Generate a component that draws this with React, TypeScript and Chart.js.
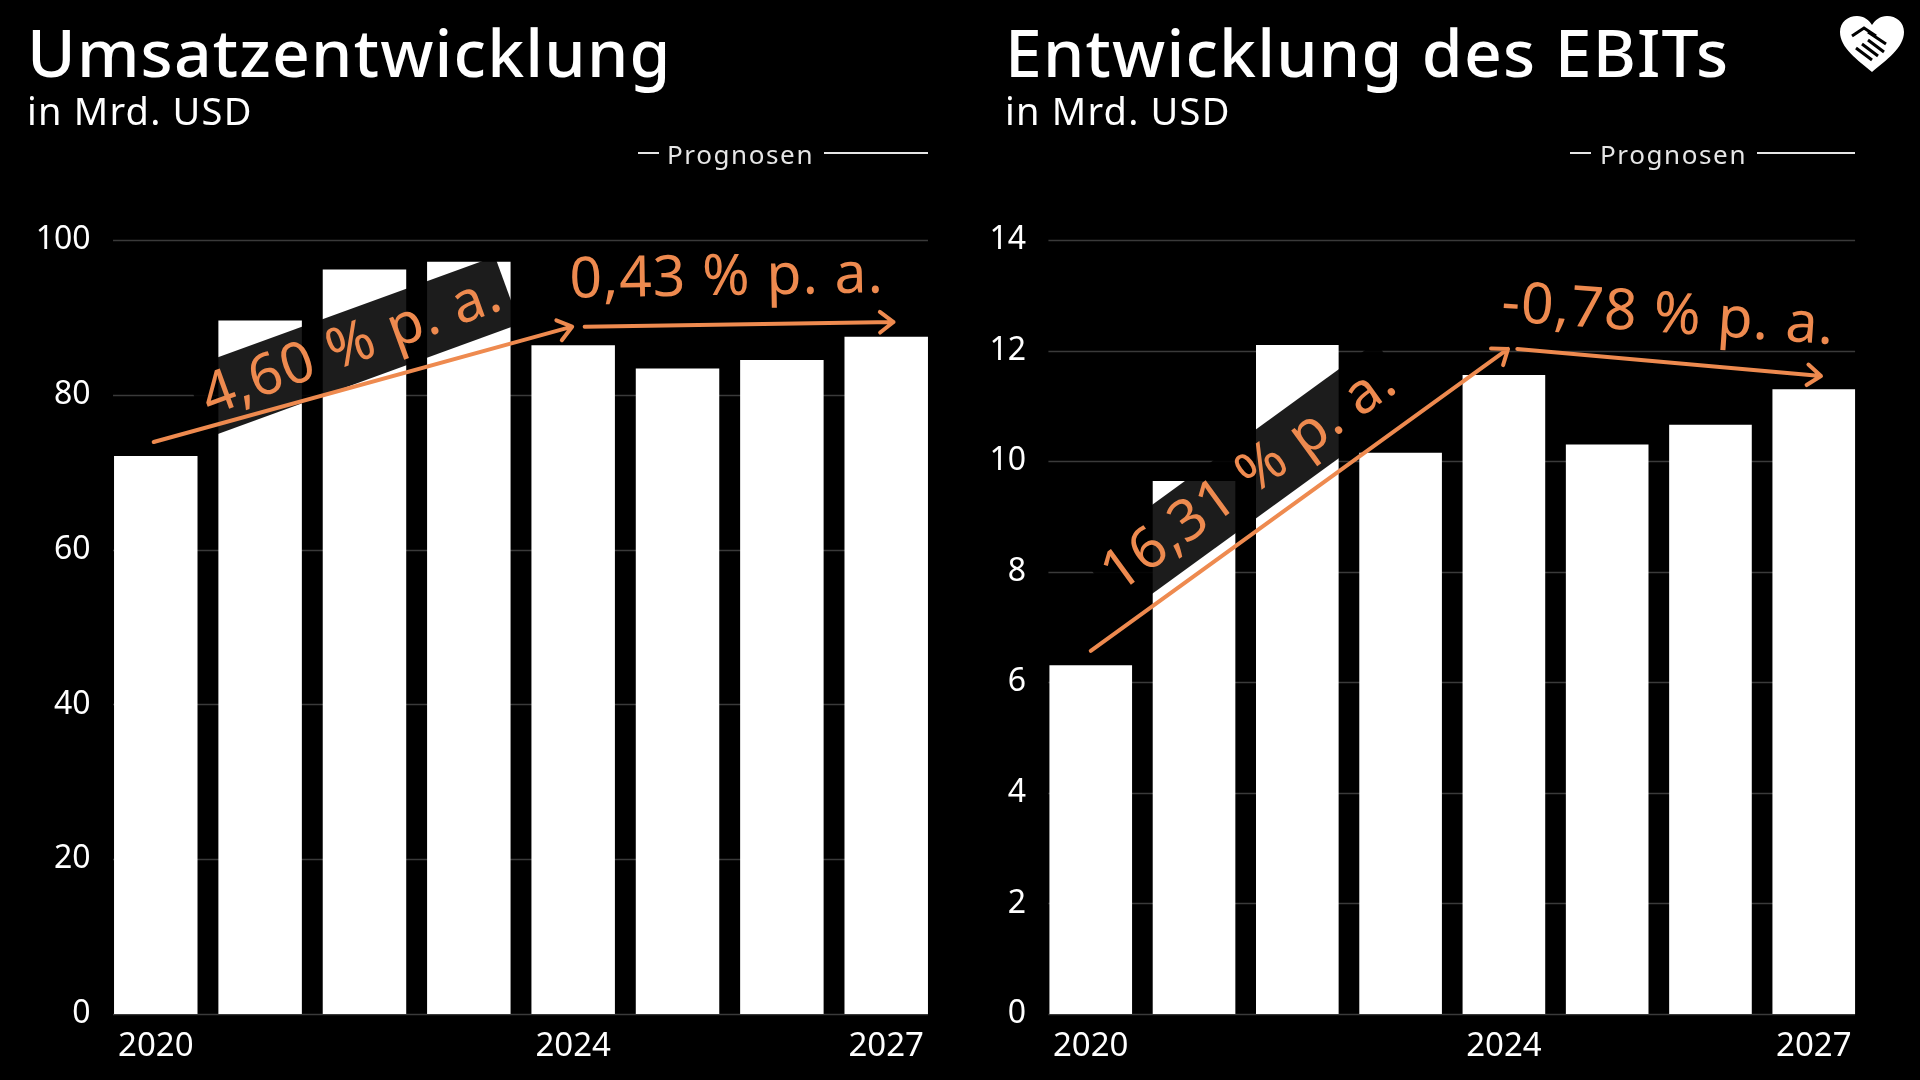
import React, { useEffect, useRef } from "react";
import { Chart, registerables } from "chart.js";

Chart.register(...registerables);

// ---------- data ----------
const years = ["2020", "2021", "2022", "2023", "2024", "2025", "2026", "2027"];
const shownYears = ["2020", "2024", "2027"];
const revenue = [72.1, 89.6, 96.2, 97.2, 86.4, 83.4, 84.5, 87.5];
const ebit = [6.31, 9.64, 12.1, 10.15, 11.56, 10.3, 10.66, 11.3];
const revenueAxis = [0, 100, 20];
const ebitAxis = [0, 14, 2];
const revenueTitle = "Umsatzentwicklung";
const ebitTitle = "Entwicklung des EBITs";
const unitLabel = "in Mrd. USD";
const forecastLabel = "Prognosen";
const revenueCagr = ["4,60 % p. a.", "0,43 % p. a."];
const ebitCagr = ["16,31 % p. a.", "-0,78 % p. a."];

// ---------- style ----------
const FONT = "'Noto Sans', sans-serif";
const ORANGE = "#EE8A4F";
const GRID = "#3a3a3a";

type Arrow = { x0: number; y0: number; x1: number; y1: number };
type Label = { text: string; x: number; y: number; rot: number; band: boolean };

const revenueArrows: Arrow[] = [
  { x0: -0.02, y0: 73.9, x1: 3.99, y1: 88.8 },
  { x0: 4.11, y0: 88.8, x1: 7.07, y1: 89.4 },
];
const revenueLabels: Label[] = [
  { text: revenueCagr[0], x: 1.88, y: 86.2, rot: -20, band: true },
  { text: revenueCagr[1], x: 5.47, y: 95.0, rot: -1, band: false },
];
const ebitArrows: Arrow[] = [
  { x0: 0, y0: 6.57, x1: 4.04, y1: 12.03 },
  { x0: 4.13, y0: 12.03, x1: 7.07, y1: 11.54 },
];
const ebitLabels: Label[] = [
  { text: ebitCagr[0], x: 1.54, y: 9.69, rot: -36, band: true },
  { text: ebitCagr[1], x: 5.59, y: 12.62, rot: 4, band: false },
];

function drawArrow(ctx: CanvasRenderingContext2D, x0: number, y0: number, x1: number, y1: number) {
  const a = Math.atan2(y1 - y0, x1 - x0);
  const h = 17;
  ctx.beginPath();
  ctx.moveTo(x0, y0);
  ctx.lineTo(x1, y1);
  ctx.moveTo(x1 - h * Math.cos(a - 0.65), y1 - h * Math.sin(a - 0.65));
  ctx.lineTo(x1, y1);
  ctx.lineTo(x1 - h * Math.cos(a + 0.65), y1 - h * Math.sin(a + 0.65));
  ctx.stroke();
}

function makeConfig(
  values: number[],
  axis: number[],
  axisWidth: number,
  rightPad: number,
  arrows: Arrow[],
  labels: Label[]
): any {
  const gridPlugin = {
    id: "customGrid",
    beforeDatasetsDraw(chart: any) {
      const ctx = chart.ctx as CanvasRenderingContext2D;
      const meta = chart.getDatasetMeta(0);
      const first = meta.data[0];
      const last = meta.data[meta.data.length - 1];
      const x0 = first.x - first.width / 2 - 1;
      const x1 = last.x + last.width / 2;
      const ys = chart.scales.y;
      ctx.save();
      ctx.strokeStyle = GRID;
      ctx.lineWidth = 1.5;
      ys.ticks.forEach((t: any) => {
        const py = Math.round(ys.getPixelForValue(t.value)) + 0.5;
        ctx.beginPath();
        ctx.moveTo(x0, py);
        ctx.lineTo(x1, py);
        ctx.stroke();
      });
      ctx.restore();
    },
  };
  const annoPlugin = {
    id: "cagr",
    afterDatasetsDraw(chart: any) {
      const ctx = chart.ctx as CanvasRenderingContext2D;
      const xs = chart.scales.x;
      const ys = chart.scales.y;
      labels.forEach((l) => {
        const px = xs.getPixelForValue(l.x);
        const py = ys.getPixelForValue(l.y);
        ctx.save();
        ctx.translate(px, py);
        ctx.rotate((l.rot * Math.PI) / 180);
        ctx.font = `400 57px ${FONT}`;
        (ctx as any).letterSpacing = "1px";
        const w = ctx.measureText(l.text).width;
        if (l.band) {
          ctx.fillStyle = "rgba(0,0,0,0.89)";
          ctx.fillRect(-w / 2 - 8, -36, w + 16, 72);
        }
        ctx.fillStyle = ORANGE;
        ctx.textAlign = "center";
        ctx.textBaseline = "middle";
        ctx.fillText(l.text, 0, 0);
        ctx.restore();
      });
      ctx.save();
      ctx.strokeStyle = ORANGE;
      ctx.lineWidth = 4;
      ctx.lineCap = "round";
      ctx.lineJoin = "round";
      arrows.forEach((a) => {
        drawArrow(
          ctx,
          xs.getPixelForValue(a.x0),
          ys.getPixelForValue(a.y0),
          xs.getPixelForValue(a.x1),
          ys.getPixelForValue(a.y1)
        );
      });
      ctx.restore();
    },
  };
  return {
    type: "bar",
    data: {
      labels: years,
      datasets: [
        {
          data: values,
          backgroundColor: "#ffffff",
          borderWidth: 0,
          barPercentage: 0.8,
          categoryPercentage: 1,
        },
      ],
    },
    options: {
      responsive: false,
      animation: false,
      devicePixelRatio: 1,
      layout: { padding: { left: 0, right: rightPad, top: 240, bottom: 0 } },
      plugins: { legend: { display: false }, tooltip: { enabled: false } },
      scales: {
        x: {
          grid: { display: false },
          border: { display: false },
          ticks: {
            color: "#ffffff",
            font: { family: FONT, size: 33 },
            padding: 5,
            autoSkip: false,
            maxRotation: 0,
            callback: (_v: any, i: number) => (shownYears.includes(years[i]) ? years[i] : ""),
          },
          afterFit: (s: any) => {
            s.height = 66;
          },
        },
        y: {
          min: axis[0],
          max: axis[1],
          grid: { display: false },
          border: { display: false },
          ticks: {
            stepSize: axis[2],
            color: "#ffffff",
            font: { family: FONT, size: 32 },
            padding: 5,
          },
          afterFit: (s: any) => {
            s.width = axisWidth;
          },
        },
      },
    },
    plugins: [gridPlugin, annoPlugin],
  };
}

function Header({ left, title, legendDash, legendText, legendLine }: any) {
  return (
    <>
      <div
        style={{
          position: "absolute",
          left,
          top: 18,
          fontFamily: FONT,
          fontWeight: 500,
          fontSize: 66,
          lineHeight: "66px",
          letterSpacing: "1.2px",
          color: "#fff",
          whiteSpace: "nowrap",
        }}
      >
        {title}
      </div>
      <div
        style={{
          position: "absolute",
          left,
          top: 91,
          fontFamily: FONT,
          fontWeight: 400,
          fontSize: 38,
          lineHeight: "38px",
          letterSpacing: "1.2px",
          color: "#fff",
          whiteSpace: "nowrap",
        }}
      >
        {unitLabel}
      </div>
      <div
        style={{
          position: "absolute",
          left: legendDash[0],
          top: 152,
          width: legendDash[1] - legendDash[0],
          height: 2,
          background: "#e6e6e6",
        }}
      />
      <div
        style={{
          position: "absolute",
          left: legendText,
          top: 141,
          fontFamily: FONT,
          fontSize: 26,
          lineHeight: "26px",
          letterSpacing: "1.6px",
          color: "#e6e6e6",
          whiteSpace: "nowrap",
        }}
      >
        {forecastLabel}
      </div>
      <div
        style={{
          position: "absolute",
          left: legendLine[0],
          top: 152,
          width: legendLine[1] - legendLine[0],
          height: 2,
          background: "#e6e6e6",
        }}
      />
    </>
  );
}

export default function App() {
  const leftRef = useRef<HTMLCanvasElement>(null);
  const rightRef = useRef<HTMLCanvasElement>(null);

  useEffect(() => {
    const c1 = new Chart(
      leftRef.current as HTMLCanvasElement,
      makeConfig(revenue, revenueAxis, 103.6, 21.6, revenueArrows, revenueLabels)
    );
    const c2 = new Chart(
      rightRef.current as HTMLCanvasElement,
      makeConfig(ebit, ebitAxis, 79.1, 54.6, ebitArrows, ebitLabels)
    );
    return () => {
      c1.destroy();
      c2.destroy();
    };
  }, []);

  return (
    <div
      style={{
        position: "fixed",
        left: 0,
        top: 0,
        width: 1920,
        height: 1080,
        background: "#000",
        overflow: "hidden",
      }}
    >
      <canvas
        ref={leftRef}
        width={960}
        height={1080}
        style={{ position: "absolute", left: 0, top: 0, width: 960, height: 1080 }}
      />
      <canvas
        ref={rightRef}
        width={960}
        height={1080}
        style={{ position: "absolute", left: 960, top: 0, width: 960, height: 1080 }}
      />
      <Header left={27} title={revenueTitle} legendDash={[638, 659]} legendText={667} legendLine={[824, 928]} />
      <Header left={1005} title={ebitTitle} legendDash={[1570, 1591]} legendText={1600} legendLine={[1757, 1855]} />
      <svg
        style={{ position: "absolute", left: 1838, top: 14 }}
        width={68}
        height={60}
        viewBox="0 0 68 60"
      >
        <path
          d="M34 58 C20 46 2 34 2 18 C2 8 10 2 19 2 C26 2 31 6 34 11 C37 6 42 2 49 2 C58 2 66 8 66 18 C66 34 48 46 34 58 Z"
          fill="#fff"
        />
        <path
          d="M14 22 L26 14 L38 22 M30 18 L48 30 M24 30 L40 42 M30 26 L46 38 M18 34 L34 46"
          stroke="#000"
          strokeWidth={3}
          fill="none"
        />
      </svg>
    </div>
  );
}
